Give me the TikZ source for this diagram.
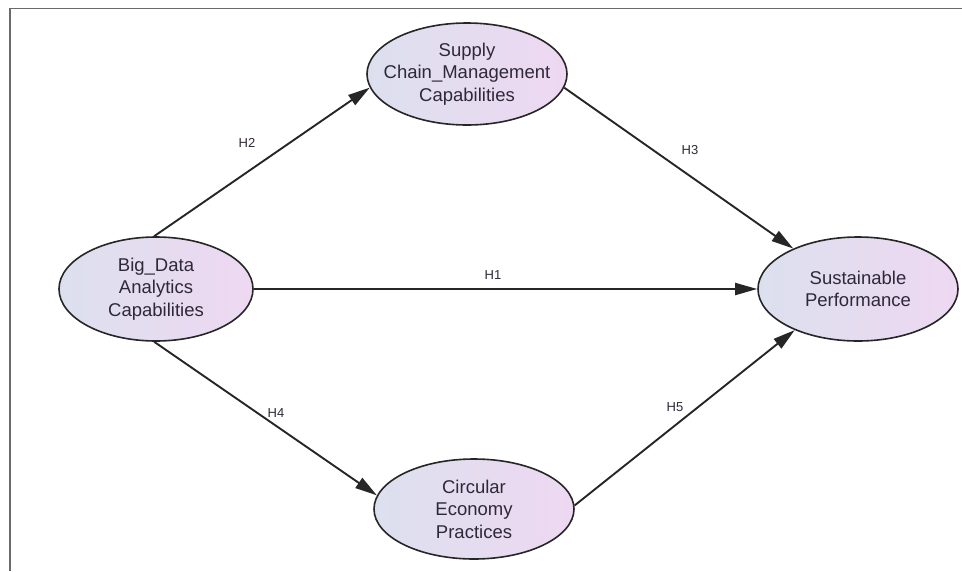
\documentclass[tikz,border=0pt]{standalone}
\usepackage{fontspec}
\setmainfont{Liberation Sans}
\usetikzlibrary{shapes.geometric,arrows.meta}
\definecolor{fillL}{HTML}{DCE0EE}
\definecolor{fillR}{HTML}{EED8F2}
\definecolor{txt}{HTML}{2F2838}
\definecolor{edge}{HTML}{262626}
\definecolor{frame}{HTML}{6A6A6A}
\tikzset{
  latent/.style={ellipse, draw=edge, line width=1.6pt, left color=fillL, right color=fillR,
    minimum width=200pt, minimum height=102pt, inner xsep=-30pt, inner ysep=0pt, align=center,
    text=txt, font=\fontsize{18.5}{22.5}\selectfont},
  path/.style={draw=edge, line width=1.9pt, -{Triangle[length=22pt,width=12pt]}},
  hlab/.style={text=txt, font=\fontsize{13}{15}\selectfont, inner sep=1pt}
}
\begin{document}
\begin{tikzpicture}[x=1pt,y=-1pt]
\useasboundingbox (0,0) rectangle (962,571);
\draw[frame, line width=1.5pt] (10,571) -- (10,8.5) -- (962,8.5);
\node[latent] (scm) at (467,74) {Supply\\Chain\_Management\\Capabilities};
\node[latent, minimum width=194pt, minimum height=104pt] (bda) at (156,289) {Big\_Data\\Analytics\\Capabilities};
\node[latent, minimum height=104pt] (sp) at (858,289) {Sustainable\\Performance};
\node[latent, minimum height=100pt] (ce) at (474,509) {Circular\\Economy\\Practices};
\draw[path] (bda.92) -- (scm.188);
\draw[path] (scm.352) -- (sp.148);
\draw[path] (bda.east) -- (sp.west);
\draw[path] (bda.268) -- (ce.172);
\draw[path] (ce.2) -- (sp.213);
\node[hlab] (h2) at (247,143) {H2};
\node[hlab] (h3) at (690,150) {H3};
\node[hlab] (h1) at (493,275) {H1};
\node[hlab] (h4) at (276,413) {H4};
\node[hlab] (h5) at (675,407) {H5};
\end{tikzpicture}
\end{document}
